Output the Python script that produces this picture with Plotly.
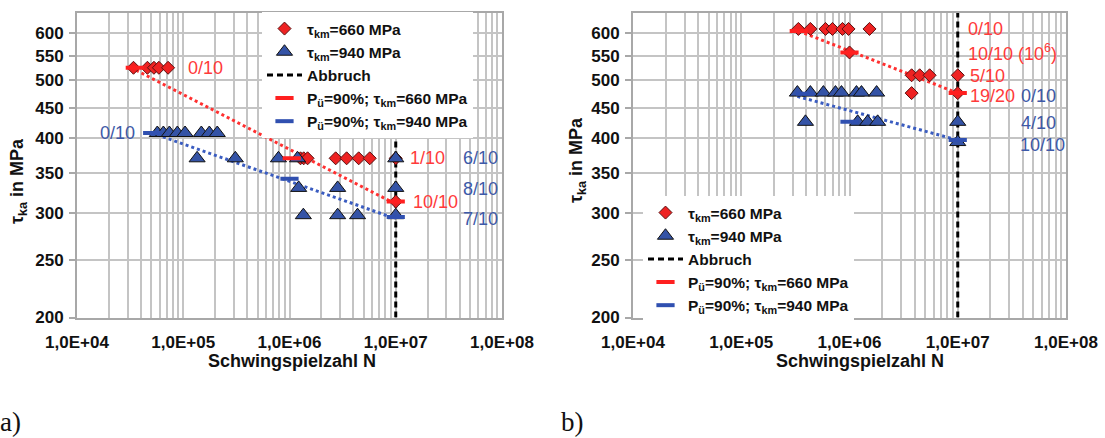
import plotly.graph_objects as go
import numpy as np

# ---------------- data ----------------
# panel a)
a_red_x = [3.4e4, 4.6e4, 5.3e4, 5.9e4, 7.2e4,
           1.27e6, 1.36e6, 1.48e6, 2.72e6, 3.45e6, 4.48e6, 5.69e6, 1e7,
           1e7]
a_red_y = [525, 525, 525, 525, 525,
           370, 370, 370, 370, 370, 370, 370, 370,
           313]
a_blue_x = [5.7e4, 6.5e4, 7.4e4, 8.8e4, 1.04e5, 1.48e5, 1.76e5, 2.09e5,
            1.35e5, 3.09e5, 7.87e5, 1.19e6, 1e7,
            1.22e6, 2.84e6, 1e7,
            1.35e6, 2.84e6, 4.37e6, 1e7]
a_blue_y = [408, 408, 408, 408, 408, 408, 408, 408,
            370, 370, 370, 370, 370,
            330, 330, 330,
            297, 297, 297, 297]
a_p90_red_x = [3.5e4, 1.05e6, 1e7]
a_p90_red_y = [525, 370, 313]
a_p90_blue_x = [5.1e4, 1.0e6, 1e7]
a_p90_blue_y = [408, 342, 295]
a_fit_red_x = [3.6e4, 1e7]
a_fit_red_y = [520, 310]
a_fit_blue_x = [5.7e4, 1e7]
a_fit_blue_y = [405, 293]

# panel b)
b_red_x = [3.37e5, 4.35e5, 6.0e5, 6.96e5, 8.61e5, 9.79e5, 1.53e6,
           1.0e6,
           3.75e6, 4.45e6, 5.5e6, 1e7,
           3.75e6, 1e7]
b_red_y = [610, 610, 610, 610, 610, 610, 610,
           557,
           510, 510, 510, 510,
           476, 476]
b_blue_x = [3.3e5, 4.35e5, 5.74e5, 7.42e5, 8.43e5, 1.16e6, 1.29e6, 1.78e6,
            3.92e5, 1.19e6, 1.47e6, 1.82e6, 1e7,
            1e7]
b_blue_y = [477, 477, 477, 477, 477, 477, 477, 477,
            426, 426, 426, 426, 426,
            394]
b_p90_red_x = [3.4e5, 1.0e6, 1e7]
b_p90_red_y = [605, 557, 476]
b_p90_blue_x = [3.9e5, 1.0e6, 1e7]
b_p90_blue_y = [475, 426, 397]
b_fit_red_x = [3.4e5, 1e7]
b_fit_red_y = [605, 476]
b_fit_blue_x = [3.3e5, 1e7]
b_fit_blue_y = [470, 397]

abbruch_x = [1e7, 1e7]
abbruch_y = [200, 650]

# labels: (text, x, y, colour-key, anchor)
a_labels = [("0/10", 1.05e5, 525, "r", "left"),
            ("0/10", 3.7e4, 408, "b", "right"),
            ("1/10", 1.3e7, 370, "r", "left"),
            ("10/10", 1.38e7, 313, "r", "left"),
            ("6/10", 4.1e7, 370, "b", "left"),
            ("8/10", 4.1e7, 328, "b", "left"),
            ("7/10", 4.1e7, 293, "b", "left")]
b_labels = [("0/10", 1.19e7, 610, "r", "left"),
            ("10/10 (10<sup>6</sup>)", 1.19e7, 556, "r", "left"),
            ("5/10", 1.24e7, 508, "r", "left"),
            ("19/20", 1.24e7, 471, "r", "left"),
            ("0/10", 3.67e7, 470, "b", "left"),
            ("4/10", 3.67e7, 424, "b", "left"),
            ("10/10", 3.6e7, 389, "b", "left")]

x_ticks = [1e4, 1e5, 1e6, 1e7, 1e8]
x_ticktext = ["1,0E+04", "1,0E+05", "1,0E+06", "1,0E+07", "1,0E+08"]
y_ticks = [200, 250, 300, 350, 400, 450, 500, 550, 600]
y_ticktext = ["200", "250", "300", "350", "400", "450", "500", "550", "600"]
x_minor = [k * 10.0 ** e for e in range(4, 8) for k in range(2, 10)]

# ---------------- styles ----------------
RED = "#ee2222"
BLUE = "#3453a6"
RED_TXT = "#ff3a3a"
BLUE_TXT = "#3d59a8"
GRID = "#c4c4c4"
AXL = "#a8a8a8"
FONT = "Liberation Sans, Arial, sans-serif"

fig = go.Figure()

def add_panel(xa, ya, legend, red_x, red_y, blue_x, blue_y,
              pr_x, pr_y, pb_x, pb_y, fr_x, fr_y, fb_x, fb_y):
    fig.add_trace(go.Scatter(x=fr_x, y=fr_y, mode="lines", xaxis=xa, yaxis=ya,
                             line=dict(color="#ff3030", width=3, dash="dot"),
                             showlegend=False, hoverinfo="skip"))
    fig.add_trace(go.Scatter(x=fb_x, y=fb_y, mode="lines", xaxis=xa, yaxis=ya,
                             line=dict(color="#3a5cc0", width=3, dash="dot"),
                             showlegend=False, hoverinfo="skip"))
    fig.add_trace(go.Scatter(x=abbruch_x, y=abbruch_y, mode="lines", xaxis=xa, yaxis=ya,
                             name="Abbruch", legend=legend, legendrank=3,
                             line=dict(color="black", width=3, dash="6px,4px")))
    fig.add_trace(go.Scatter(x=red_x, y=red_y, mode="markers", xaxis=xa, yaxis=ya,
                             name="τ<sub>km</sub>=660 MPa", legend=legend, legendrank=1,
                             marker=dict(symbol="diamond", size=10, color=RED,
                                         line=dict(color="#5a1010", width=1))))
    fig.add_trace(go.Scatter(x=blue_x, y=blue_y, mode="markers", xaxis=xa, yaxis=ya,
                             name="τ<sub>km</sub>=940 MPa", legend=legend, legendrank=2,
                             marker=dict(symbol="triangle-up", size=14, color=BLUE,
                                         line=dict(color="#111111", width=1))))
    fig.add_trace(go.Scatter(x=pr_x, y=pr_y, mode="markers", xaxis=xa, yaxis=ya,
                             name="P<sub>ü</sub>=90%; τ<sub>km</sub>=660 MPa",
                             legend=legend, legendrank=4,
                             marker=dict(symbol="line-ew", size=13,
                                         line=dict(color="#ff2020", width=4))))
    fig.add_trace(go.Scatter(x=pb_x, y=pb_y, mode="markers", xaxis=xa, yaxis=ya,
                             name="P<sub>ü</sub>=90%; τ<sub>km</sub>=940 MPa",
                             legend=legend, legendrank=5,
                             marker=dict(symbol="line-ew", size=13,
                                         line=dict(color="#3050b0", width=4))))

add_panel("x", "y", "legend", a_red_x, a_red_y, a_blue_x, a_blue_y,
          a_p90_red_x, a_p90_red_y, a_p90_blue_x, a_p90_blue_y,
          a_fit_red_x, a_fit_red_y, a_fit_blue_x, a_fit_blue_y)
add_panel("x2", "y2", "legend2", b_red_x, b_red_y, b_blue_x, b_blue_y,
          b_p90_red_x, b_p90_red_y, b_p90_blue_x, b_p90_blue_y,
          b_fit_red_x, b_fit_red_y, b_fit_blue_x, b_fit_blue_y)

W, H = 1105, 438
ydom = [1 - 317.5 / H, 1 - 12.5 / H]

def xaxis_cfg(domain, anchor):
    return dict(type="log", range=[4, 8], domain=domain, anchor=anchor, automargin=False,
                tickmode="array", tickvals=x_ticks, ticktext=x_ticktext,
                showgrid=True, gridcolor=GRID, gridwidth=2,
                minor=dict(tickmode="array", tickvals=x_minor, showgrid=True,
                           gridcolor=GRID, gridwidth=2, ticks=""),
                showline=True, linecolor=AXL, linewidth=2, mirror=True,
                ticks="", ticklabelstandoff=8, zeroline=False,
                tickfont=dict(family=FONT, size=17, color="#111111", weight="bold"))

def yaxis_cfg(anchor):
    return dict(type="log", range=[np.log10(200), np.log10(650)], domain=ydom,
                anchor=anchor, automargin=False,
                tickmode="array", tickvals=y_ticks, ticktext=y_ticktext,
                showgrid=True, gridcolor=GRID, gridwidth=2,
                showline=True, linecolor=AXL, linewidth=2, mirror=True,
                ticks="outside", ticklen=6, tickcolor=AXL, tickwidth=2,
                ticklabelstandoff=2, zeroline=False,
                tickfont=dict(family=FONT, size=17, color="#111111", weight="bold"))

legend_common = dict(bgcolor="white", borderwidth=0, xanchor="left", yanchor="top",
                     font=dict(family=FONT, size=15.5, color="#111111", weight="bold"),
                     tracegroupgap=0, itemwidth=35, traceorder="normal")

annotations = []
for xr, yr, labels in (("x", "y", a_labels), ("x2", "y2", b_labels)):
    for txt, lx, ly, c, anc in labels:
        annotations.append(dict(text=txt, x=np.log10(lx), y=np.log10(ly), xref=xr, yref=yr,
                                xanchor=anc, yanchor="middle", showarrow=False,
                                font=dict(family=FONT, size=18,
                                          color=RED_TXT if c == "r" else BLUE_TXT)))

for cx in (292, 860):
    annotations.append(dict(text="Schwingspielzahl N", x=cx / W, y=1 - 361 / H,
                            xref="paper", yref="paper", xanchor="center", yanchor="middle",
                            showarrow=False,
                            font=dict(family=FONT, size=18, color="#111111", weight="bold")))
for cx, cy in ((19, 181), (577, 160)):
    annotations.append(dict(text="τ<sub>ka</sub> in MPa", x=cx / W, y=1 - cy / H,
                            xref="paper", yref="paper", xanchor="center", yanchor="middle",
                            textangle=-90, showarrow=False,
                            font=dict(family=FONT, size=18, color="#111111", weight="bold")))
for txt, cx in (("a)", 10), ("b)", 572)):
    annotations.append(dict(text=txt, x=cx / W, y=1 - 422 / H, xref="paper", yref="paper",
                            xanchor="center", yanchor="middle", showarrow=False,
                            font=dict(family="Liberation Serif, DejaVu Serif, serif",
                                      size=27, color="#111111")))

fig.update_layout(
    width=W, height=H, margin=dict(l=0, r=0, t=0, b=0, autoexpand=False),
    paper_bgcolor="white", plot_bgcolor="white",
    xaxis=xaxis_cfg([77 / W, 502 / W], "y"),
    yaxis=yaxis_cfg("x"),
    xaxis2=xaxis_cfg([633 / W, 1066 / W], "y2"),
    yaxis2=yaxis_cfg("x2"),
    legend=dict(x=262 / W, y=1 - 12 / H, **legend_common),
    legend2=dict(x=643 / W, y=1 - 196 / H, **legend_common),
    annotations=annotations,
)

fig.write_html("out.html")
